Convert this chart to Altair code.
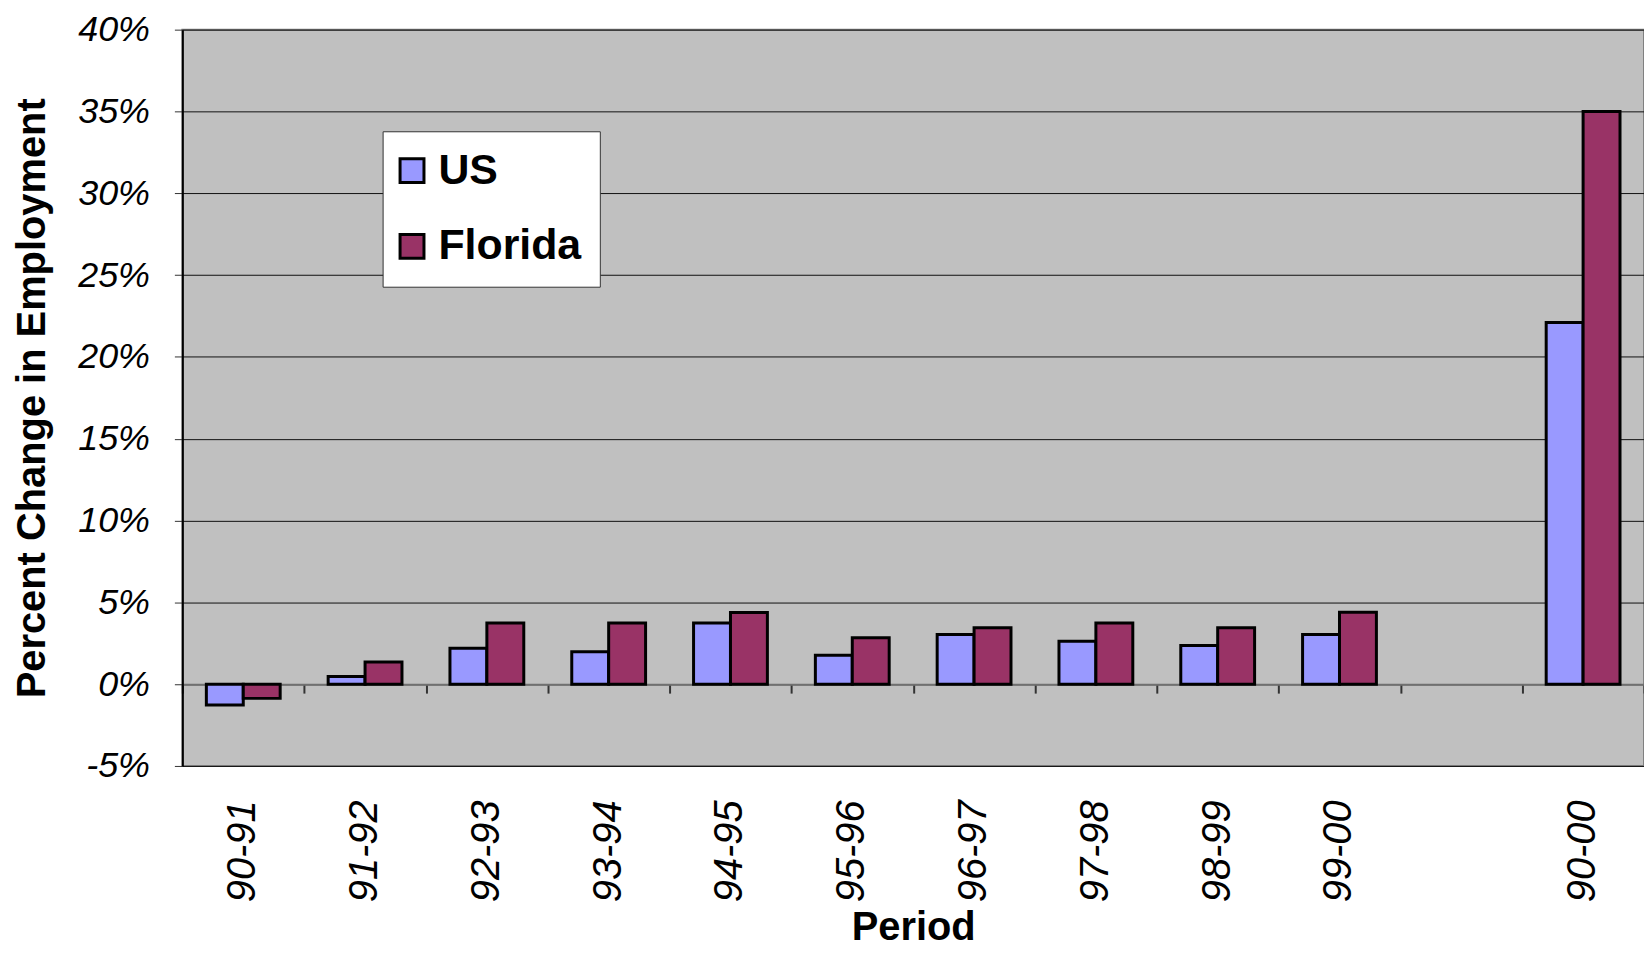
import altair as alt
import pandas as pd

periods = ["90-91", "91-92", "92-93", "93-94", "94-95", "95-96",
           "96-97", "97-98", "98-99", "99-00", "90-00"]
us = [-1.27, 0.46, 2.2, 1.98, 3.73, 1.77, 3.04, 2.62, 2.36, 3.04, 22.1]
florida = [-0.87, 1.35, 3.73, 3.73, 4.38, 2.84, 3.45, 3.73, 3.45, 4.4, 35.0]
x_domain = periods[:10] + [" "] + periods[10:]
series = ["US", "Florida"]
colors = ["#9999FF", "#993366"]
y_ticks = list(range(-5, 45, 5))
y_domain = [-5, 40]

rows = []
for p, u, f in zip(periods, us, florida):
    rows.append({"Period": p, "Series": "US", "Change": u})
    rows.append({"Period": p, "Series": "Florida", "Change": f})
df = pd.DataFrame(rows)

W, H = 1467, 739
FONT = "Liberation Sans"
zero_offset = -H * (0 - y_domain[0]) / (y_domain[1] - y_domain[0])

x_scale = alt.Scale(domain=x_domain, paddingInner=0, paddingOuter=0)
y_scale = alt.Scale(domain=y_domain, nice=False)

bars = alt.Chart(df).mark_bar(stroke="black", strokeWidth=3).encode(
    x=alt.X("Period:N", scale=x_scale, sort=x_domain,
            axis=alt.Axis(orient="bottom", title="Period", labelAngle=-90, labelFont=FONT,
                          labelFontStyle="italic", labelFontSize=40,
                          labelColor="black", labelPadding=34, ticks=False,
                          domain=False, grid=False, titleFont=FONT,
                          titleFontSize=40, titleFontWeight="bold",
                          titleColor="black", titlePadding=6)),
    xOffset=alt.XOffset("Series:N", sort=series,
                        scale=alt.Scale(domain=series, paddingInner=0, paddingOuter=0.65)),
    y=alt.Y("Change:Q", scale=y_scale,
            axis=alt.Axis(title="Percent Change in Employment", values=y_ticks,
                          labelExpr="datum.value + '%'", labelFont=FONT,
                          labelFontStyle="italic", labelFontSize=36,
                          labelColor="black", labelPadding=25, tickSize=8,
                          tickColor="#333333", domainColor="black", domainWidth=2,
                          grid=True, gridColor="#111111", gridWidth=1,
                          titleFont=FONT, titleFontSize=40, titleFontWeight="bold",
                          titleColor="black", titlePadding=25)),
    color=alt.Color("Series:N", scale=alt.Scale(domain=series, range=colors),
                    legend=alt.Legend(title=None, orient="none", legendX=201, legendY=102,
                                      fillColor="white", strokeColor="#333333",
                                      padding=18, labelFont=FONT, labelFontSize=43,
                                      labelFontWeight="bold", labelColor="black",
                                      labelOffset=5, rowPadding=32, symbolOffset=-10,
                                      symbolType="square", symbolSize=576,
                                      symbolStrokeColor="black", symbolStrokeWidth=3,
                                      symbolOpacity=1)),
)

zero_axis = alt.Chart(df).mark_point(opacity=0).encode(
    x=alt.X("Period:N", scale=x_scale, sort=x_domain,
            axis=alt.Axis(orient="bottom", title=None, labels=False, offset=zero_offset,
                          tickBand="extent", ticks=True, tickSize=9,
                          tickColor="#333333", tickWidth=2, domain=True,
                          domainColor="#707070", domainWidth=2, grid=False)),
    y=alt.Y("Change:Q", scale=y_scale),
)

chart = alt.layer(bars, zero_axis).resolve_axis(x="independent").properties(
    width=W, height=H,
    autosize=alt.AutoSizeParams(type="none"),
    padding={"left": 175, "top": 20, "right": 0, "bottom": 186},
).configure_view(fill="#C0C0C0", stroke="#808080", strokeWidth=2)

chart.save("out.html", embed_options={"renderer": "svg", "actions": False})
